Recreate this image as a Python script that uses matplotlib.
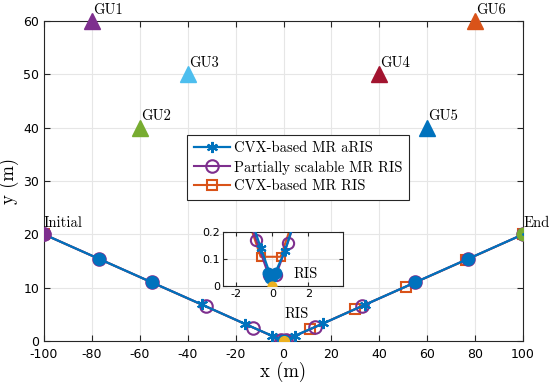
import numpy as np
import matplotlib.pyplot as plt

plt.rcParams['axes.unicode_minus'] = False

# colores estilo MATLAB
c_blue = '#0072BD'
c_red = '#D95319'
c_yellow = '#EDB120'
c_purple = '#7E2F8E'
c_green = '#77AC30'
c_lblue = '#4DBEEE'
c_dred = '#A2142F'

# trayectoria CVX-based MR aRIS
aris_x = [-100, -77, -55, -34.2, -16.1, -4.9, -0.63, -0.1, 0.0, 0.1, 0.7, 4.8, 16.6, 34.0, 55, 77, 100]
aris_y = [20, 15.4, 11.0, 6.85, 3.2, 1.0, 0.14, 0.04, 0.03, 0.04, 0.13, 1.0, 3.3, 6.8, 11.0, 15.4, 20]
# puntos donde el aRIS se queda (manchas)
blob_x = [-77, -55, -0.25, -0.1, 0.05, 0.2, 55, 77]
blob_y = [15.4, 11.0, 0.05, 0.03, 0.04, 0.05, 11.0, 15.4]

# Partially scalable MR RIS
ps_x = [-100, -77, -55, -32.4, -12.6, -0.89, -0.2, 0.2, 0.85, 13.1, 32.6, 55, 77, 100]
ps_y = [20, 15.4, 11.0, 6.5, 2.5, 0.171, 0.04, 0.04, 0.16, 2.6, 6.5, 11.0, 15.4, 20]

# CVX-based MR RIS
ris_x = [-100, -0.65, 0.46, 11.1, 29.9, 51.1, 76.2, 100]
ris_y = [20, 0.109, 0.109, 2.2, 6.0, 10.2, 15.2, 20]

# usuarios
gu_names = ['GU1', 'GU2', 'GU3', 'GU4', 'GU5', 'GU6']
gu_x = [-80, -60, -40, 40, 60, 80]
gu_y = [60, 40, 50, 50, 40, 60]
gu_colors = [c_purple, c_green, c_lblue, c_dred, c_blue, c_red]

serif = 'cmr10'
asterisco = (6, 2, 0)

def dibujar(ax, ms_scale=1.0):
  ax.plot(ris_x, ris_y, '-s', color=c_red, lw=1.5, ms=7*ms_scale, mfc='none', mew=1.5,
          label='CVX-based MR RIS', zorder=2)
  ax.plot(ps_x, ps_y, '-o', color=c_purple, lw=1.5, ms=9*ms_scale, mfc='none', mew=1.5,
          label='Partially scalable MR RIS', zorder=3)
  ax.plot(aris_x, aris_y, '-', marker=asterisco, color=c_blue, lw=1.6, ms=8*ms_scale, mew=1.5,
          label='CVX-based MR aRIS', zorder=4)
  ax.plot(blob_x, blob_y, 'o', color=c_blue, ms=8.5*ms_scale, zorder=5)
  ax.plot(0, 0, 'o', color=c_yellow, ms=7*ms_scale, zorder=6)

fig = plt.figure(figsize=(5.5, 3.84), dpi=100)
ax = fig.add_axes([0.08, 0.112, 0.871, 0.833])

dibujar(ax)
ax.plot(-100, 20, 'o', color=c_purple, ms=9, zorder=6)
ax.plot(100, 20, 'o', color=c_green, ms=9, zorder=6)
ax.plot(100, 20, '.', color=c_blue, ms=2, zorder=7)

for n, x, y, c in zip(gu_names, gu_x, gu_y, gu_colors):
  ax.plot(x, y, '^', color=c, ms=11, clip_on=False, zorder=6)
  ax.text(x + 0.5, y + 0.8, n, fontfamily=serif, fontsize=10.5, ha='left', va='bottom')

ax.text(-100, 20.9, 'Initial', fontfamily=serif, fontsize=10.5, ha='left', va='bottom')
ax.text(100, 20.9, 'End', fontfamily=serif, fontsize=10.5, ha='left', va='bottom')
ax.text(0.6, 5.0, 'RIS', fontfamily=serif, fontsize=10.5, ha='left', va='center')

ax.set_xlim(-100, 100)
ax.set_ylim(0, 60)
ax.set_xticks(np.arange(-100, 101, 20))
ax.set_yticks(np.arange(0, 61, 10))
ax.grid(True, color='#e6e6e6', lw=0.8)
ax.set_axisbelow(True)
ax.tick_params(direction='in', top=True, right=True, labelsize=9, color='#262626', length=4)
ax.tick_params(axis='x', pad=5)
for s in ax.spines.values():
  s.set_color('#262626')
  s.set_linewidth(0.8)
ax.set_xlabel('x (m)', fontfamily=serif, fontsize=13.5, labelpad=1)
ax.set_ylabel('y (m)', fontfamily=serif, fontsize=13.5, labelpad=3)

h, l = ax.get_legend_handles_labels()
leg = ax.legend(h[::-1], l[::-1], loc='upper left', bbox_to_anchor=(0.2985, 0.644),
                borderaxespad=0, prop={'family': serif, 'size': 10.5}, fancybox=False,
                framealpha=1, edgecolor='#262626', handlelength=2.5, handletextpad=0.25,
                borderpad=0.45, labelspacing=0.35)
leg.get_frame().set_linewidth(0.8)

# inset ampliado
axi = fig.add_axes([0.405, 0.255, 0.2195, 0.14])
dibujar(axi, 0.9)
axi.text(1.15, 0.046, 'RIS', fontfamily=serif, fontsize=10.5, ha='left', va='center')
axi.set_xlim(-2.75, 3.95)
axi.set_ylim(0, 0.2)
axi.set_xticks([-2, 0, 2])
axi.set_yticks([0, 0.1, 0.2])
axi.set_yticklabels(['0', '0.1', '0.2'])
axi.grid(True, color='#e6e6e6', lw=0.8)
axi.set_axisbelow(True)
axi.tick_params(direction='in', top=True, right=True, labelsize=8, color='#262626', length=3, pad=2)
for s in axi.spines.values():
  s.set_color('#262626')
  s.set_linewidth(0.8)

fig.savefig('out.png', dpi=100)
